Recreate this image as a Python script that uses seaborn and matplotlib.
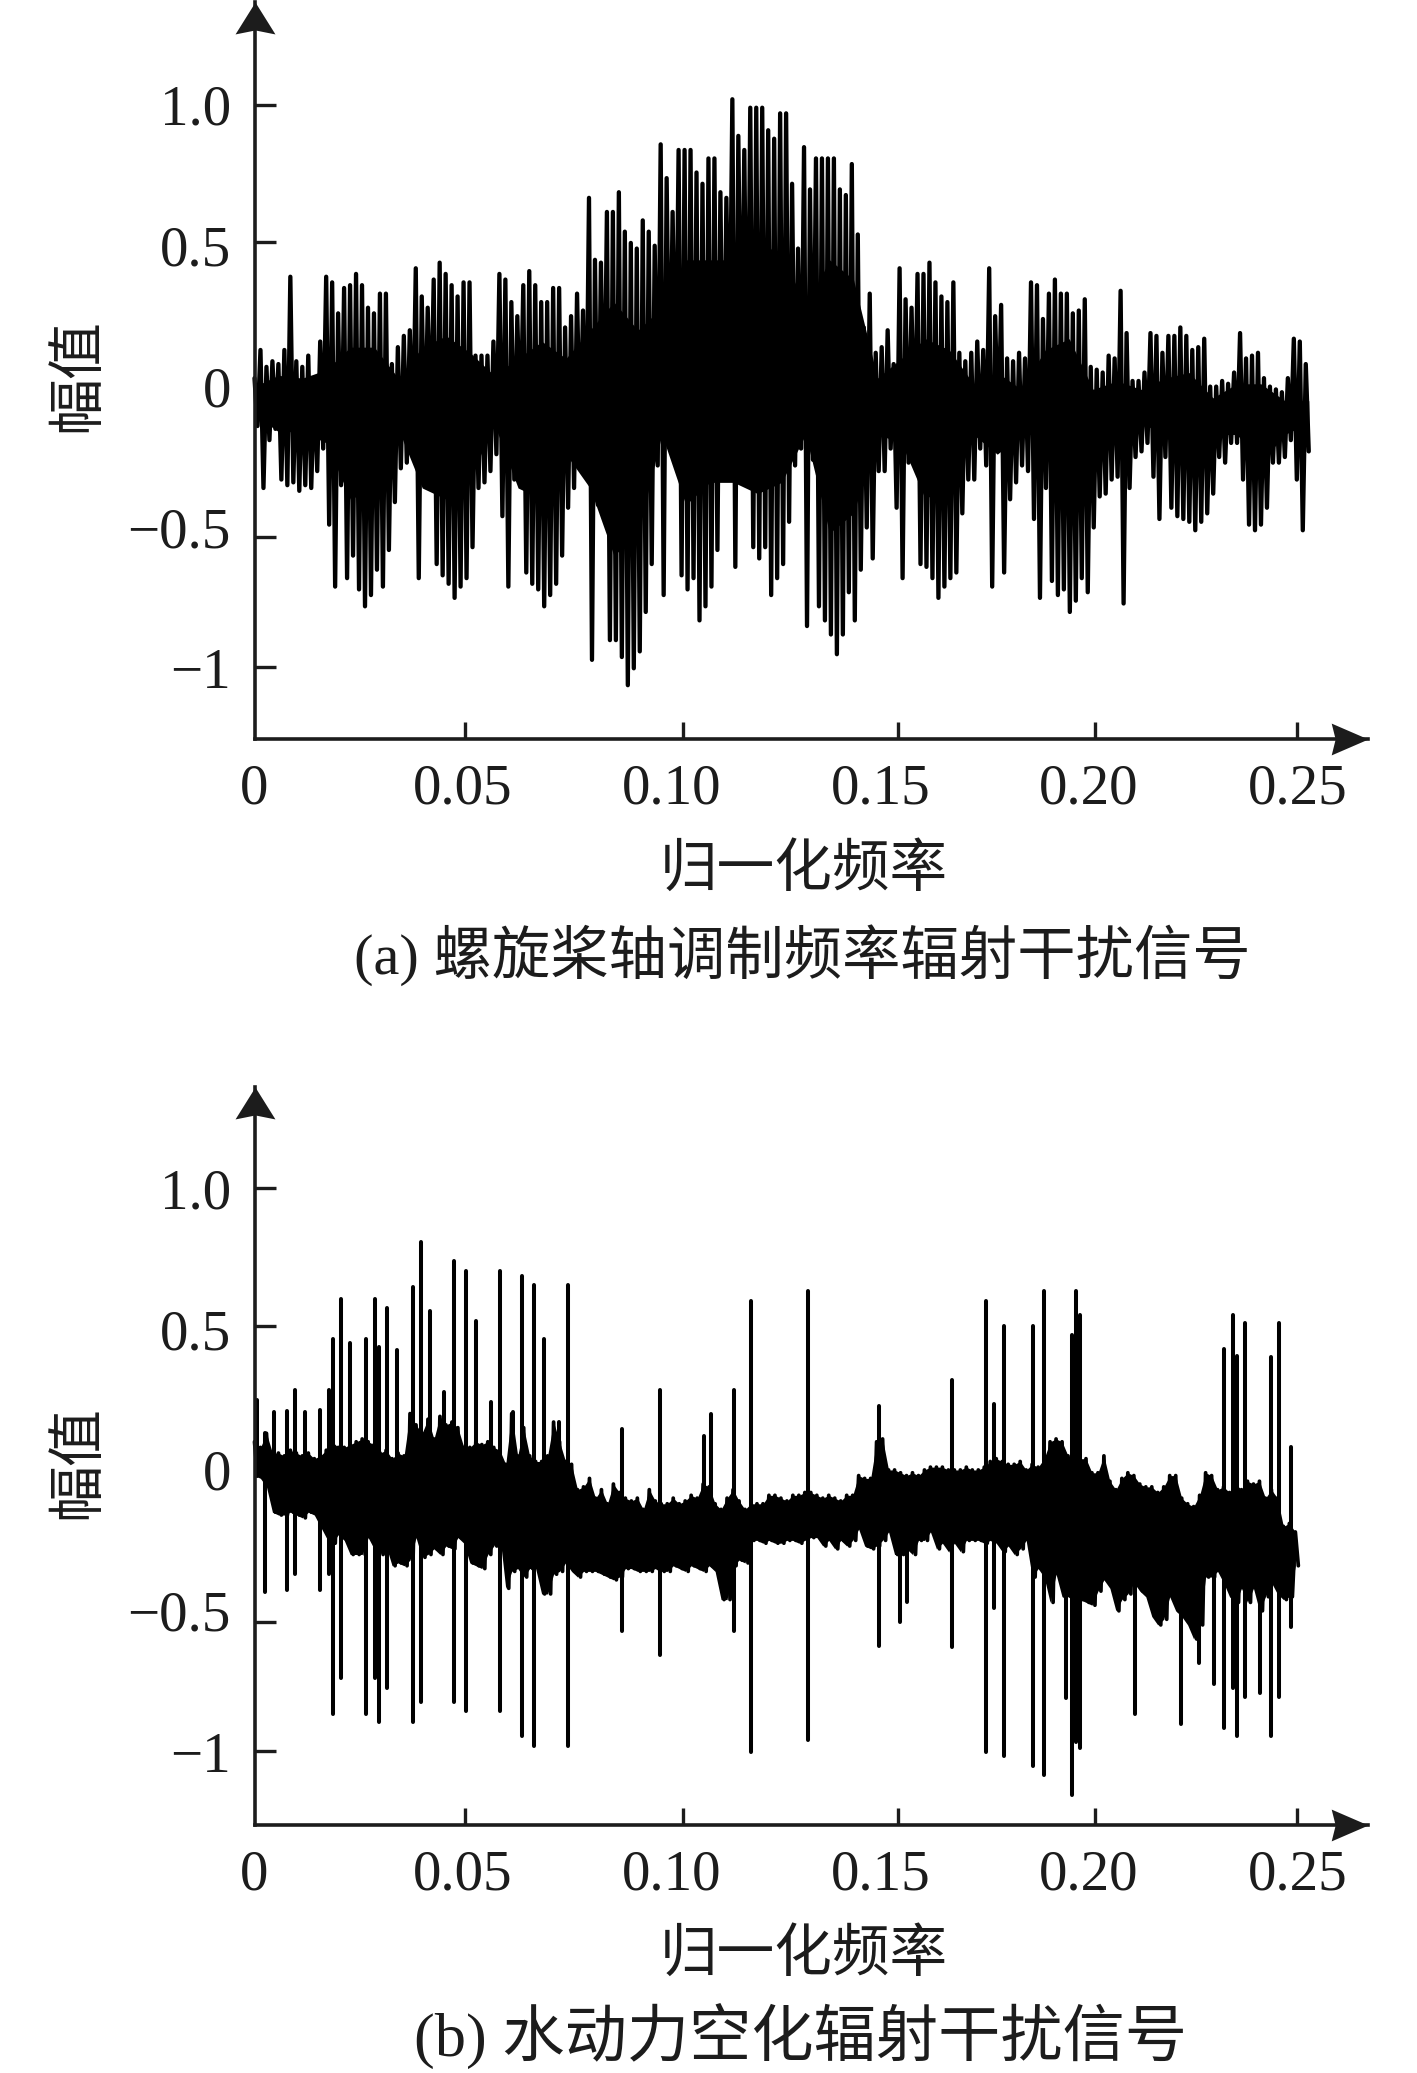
import numpy as np
import pandas as pd
import matplotlib
matplotlib.use("Agg")
import matplotlib.pyplot as plt
from matplotlib.path import Path
import seaborn as sns

# panel (a): upper and lower reach of the signal, read column by column
a_hi = [.03,.13,.07,.09,.08,.13,.39,.09,.07,.11,.03,.16,.39,.37,.26,.35,.36,.40,.36,.28,
        .26,.33,.33,.08,.14,.18,.20,.42,.32,.28,.38,.44,.40,.36,.32,.37,.37,.11,.11,.11,
        .16,.40,.38,.30,.25,.36,.41,.36,.30,.30,.35,.35,.21,.25,.33,.27,.67,.45,.44,.62,
        .62,.69,.55,.51,.49,.59,.55,.50,.86,.74,.62,.84,.84,.84,.76,.72,.81,.81,.69,.67,
        1.02,.89,.84,.99,.99,.99,.91,.88,.97,.97,.72,.49,.85,.70,.81,.81,.81,.81,.70,.68,
        .79,.54,.21,.33,.12,.14,.20,.08,.42,.31,.28,.40,.40,.44,.37,.32,.30,.37,.12,.09,
        .12,.16,.13,.42,.25,.29,.10,.09,.12,.10,.37,.36,.24,.33,.38,.33,.33,.26,.27,.31,
        .07,.06,.05,.11,.10,.34,.19,.02,.02,.05,.19,.18,.12,.18,.18,.21,.18,.13,.14,.17,
        .0,.0,.02,.01,.05,.19,.10,.11,.12,.03,.0,-.01,-.02,.03,.17,.16,.08]
a_lo = [-.14,-.36,-.19,-.15,-.33,-.35,-.34,-.37,-.35,-.36,-.30,-.22,-.49,-.71,-.35,-.68,-.60,-.72,-.78,-.74,
        -.65,-.71,-.58,-.41,-.29,-.27,-.23,-.68,-.27,-.20,-.63,-.67,-.70,-.75,-.71,-.68,-.57,-.36,-.34,-.30,
        -.24,-.46,-.71,-.33,-.20,-.66,-.70,-.72,-.78,-.74,-.70,-.60,-.43,-.36,-.23,-.32,-.97,-.42,-.30,-.90,
        -.90,-.96,-1.06,-1.0,-.94,-.80,-.63,-.28,-.74,-.18,-.15,-.67,-.72,-.68,-.83,-.78,-.71,-.58,-.30,-.03,
        -.64,-.07,-.20,-.57,-.61,-.57,-.74,-.68,-.63,-.48,-.28,-.22,-.85,-.26,-.78,-.83,-.88,-.95,-.88,-.73,
        -.83,-.65,-.50,-.61,-.30,-.30,-.22,-.43,-.68,-.27,-.26,-.63,-.64,-.68,-.75,-.71,-.68,-.66,-.45,-.33,
        -.33,-.22,-.28,-.71,-.20,-.66,-.40,-.34,-.28,-.30,-.47,-.75,-.36,-.69,-.74,-.72,-.80,-.76,-.68,-.73,
        -.50,-.39,-.38,-.33,-.32,-.77,-.36,-.25,-.23,-.20,-.32,-.47,-.25,-.43,-.46,-.47,-.48,-.51,-.48,-.45,
        -.38,-.25,-.27,-.20,-.20,-.33,-.49,-.51,-.49,-.43,-.27,-.27,-.25,-.19,-.33,-.51,-.23]

# panel (a): where the trace merges into a solid body
a_core_hi = [.0,.04,.03,.06,.14,.14,.03,.14,.18,.12,.04,.10,.16,.10,.20,.30,.20,.28,.45,.45,
             .45,.50,.48,.28,.45,.38,.03,.10,.17,.13,.01,.05,-.01,.13,.17,-.01,.02,-.01,.03,.05,
             -.04,.01,.01,-.05,-.05]
a_core_lo = [-.10,-.16,-.16,-.20,-.40,-.36,-.15,-.36,-.40,-.33,-.13,-.36,-.40,-.24,-.36,-.60,-.52,-.17,-.42,-.34,
             -.34,-.38,-.34,-.17,-.52,-.45,-.17,-.20,-.40,-.34,-.17,-.24,-.17,-.17,-.40,-.24,-.17,-.13,-.17,-.30,
             -.17,-.17,-.27,-.17,-.13]

# panel (b): the dense band
b_hi = [.10,.08,.13,.06,.06,.05,.07,.06,.05,.06,.04,.05,.07,.10,.08,.08,.09,.10,.11,.10,
        .09,.06,.07,.04,.06,.05,.20,.16,.13,.18,.11,.19,.16,.17,.15,.08,.08,.10,.09,.10,
        .08,.07,.02,.20,.05,.15,.05,.03,.03,.05,.17,.10,.03,.02,-.07,-.06,-.03,-.10,-.07,-.12,
        -.05,-.08,-.10,-.11,-.10,-.14,-.07,-.11,-.12,-.12,-.10,-.12,-.11,-.09,-.10,-.05,-.06,-.12,-.14,-.10,
        -.07,-.11,-.14,-.12,-.12,-.12,-.09,-.09,-.10,-.11,-.09,-.09,-.08,-.08,-.09,-.10,-.09,-.10,-.11,-.09,
        -.09,-.02,-.03,-.03,.10,.11,.0,.0,-.01,-.02,-.01,-.02,.0,.01,.01,.01,.0,.0,.0,.01,
        .0,.0,.01,.03,.04,.03,.02,.02,.03,.0,.02,.01,.04,.10,.11,.10,.05,.04,.04,.04,
        -.01,-.01,.05,-.04,-.07,-.03,-.01,-.02,-.05,-.06,-.06,-.08,-.06,-.02,-.02,-.10,-.12,-.13,-.09,-.01,
        -.02,-.07,-.06,-.08,-.05,-.07,-.04,-.05,-.04,-.10,-.07,-.10,-.20,-.19,-.22]
b_lo = [-.02,-.03,-.06,-.15,-.16,-.16,-.15,-.16,-.17,-.15,-.16,-.20,-.24,-.26,-.23,-.25,-.30,-.30,-.30,-.24,
        -.28,-.30,-.27,-.34,-.33,-.34,-.32,-.24,-.31,-.30,-.28,-.30,-.27,-.28,-.24,-.26,-.33,-.34,-.35,-.30,
        -.27,-.23,-.42,-.36,-.35,-.38,-.35,-.35,-.44,-.44,-.37,-.36,-.33,-.36,-.38,-.36,-.36,-.36,-.37,-.38,
        -.39,-.38,-.35,-.35,-.36,-.36,-.36,-.35,-.36,-.36,-.34,-.35,-.36,-.34,-.35,-.36,-.34,-.36,-.46,-.46,
        -.34,-.32,-.33,-.25,-.25,-.26,-.25,-.26,-.26,-.25,-.25,-.26,-.25,-.24,-.24,-.27,-.25,-.28,-.25,-.27,
        -.25,-.21,-.27,-.28,-.27,-.25,-.22,-.30,-.30,-.28,-.30,-.25,-.25,-.22,-.28,-.26,-.29,-.26,-.29,-.25,
        -.25,-.25,-.26,-.25,-.26,-.29,-.27,-.30,-.28,-.25,-.38,-.35,-.38,-.47,-.37,-.45,-.45,-.46,-.46,-.47,
        -.48,-.43,-.39,-.42,-.50,-.46,-.44,-.40,-.43,-.45,-.52,-.55,-.53,-.45,-.50,-.52,-.55,-.60,-.55,-.38,
        -.38,-.36,-.40,-.45,-.47,-.42,-.47,-.42,-.50,-.45,-.40,-.44,-.46,-.45,-.34]

# panel (b): isolated spikes standing out of the band
spike_f = [.0006,.0026,.0046,.0078,.0098,.0122,.0158,.0178,.0187,.0207,.023,.0268,.0288,.0298,.0318,.0341,
           .0379,.0398,.042,.0454,.0478,.0508,.0531,.0566,.0588,.0619,.0641,.0671,.0695,.0729,.0752,
           .0881,.0971,.1077,.1095,.1149,.1191,.1327,.1497,.1547,.1564,.1671,.1753,.1772,.1796,.1866,.1892,
           .1946,.1960,.1970,.1979,.2110,.2220,.2265,.2299,.2323,.2345,.2355,.2374,.2410,.2436,.2455,.2484]
spike_hi = [.25,.13,.207,.21,.284,.207,.214,.284,.466,.607,.45,.466,.607,.438,.576,.424,
            .648,.81,.564,.277,.74,.707,.529,.242,.707,.207,.69,.655,.466,.17,.655,
            .146,.284,.122,.2,.284,.6,.635,.228,-.2,-.2,.319,.6,.234,.512,.512,.635,
            -.2,.48,.635,.55,-.2,-.2,-.2,-.2,.43,.55,.403,.522,-.2,.40,.522,.08]
spike_lo = [-.02,-.432,-.1,-.425,-.369,-.1,-.425,-.369,-.867,-.74,-.2,-.867,-.74,-.895,-.775,-.2,
            -.895,-.825,-.2,-.2,-.825,-.857,-.2,-.2,-.857,-.2,-.944,-.979,-.2,-.2,-.979,
            -.572,-.656,-.2,-.2,-.572,-1.0,-.958,-.625,-.54,-.467,-.628,-1.0,-.49,-1.014,-1.05,-1.084,
            -.81,-1.154,-.965,-.986,-.867,-.90,-.685,-.76,-.916,-.775,-.944,-.804,-.79,-.944,-.804,-.558]

x_label_pos = [0, .05, .10, .15, .20, .25]
x_labels = ["0", "0.05", "0.10", "0.15", "0.20", "0.25"]
y_label_pos = [1.0, .5, 0, -.5, -1.0]
y_labels = ["1.0", "0.5", "0", "\u22120.5", "\u22121"]
# the tick marks in the source do not sit exactly under their labels
x_marks = [.0505, .1027, .1542, .2015, .2499]
y_marks_a = [1.0, .515, 0, -.533, -.996]
y_marks_b = [1.0, .511, 0, -.539, -.998]

W, H = 1417, 2073
INK = "#1c1c1c"

sns.set_style("white")
plt.rcParams["font.family"] = ["Liberation Serif", "Noto Sans CJK SC"]
plt.rcParams["font.size"] = 41
plt.rcParams["axes.unicode_minus"] = False

arrow_right = Path([(0, 0), (-37, 16), (-33, 0), (-37, -16), (0, 0)], closed=True)
arrow_up = Path([(0, 0), (-20, -32), (0, -28), (20, -32), (0, 0)], closed=True)


def zigzag(hi, lo, f_end):
    y = np.column_stack([hi, lo]).ravel()
    return np.linspace(0, f_end, len(y)), y


def setup(ax, marks, ylim):
    ax.set_xlim(0, .2669)
    ax.set_ylim(*ylim)
    ax.set_xlabel("")
    ax.set_ylabel("")
    ax.xaxis.remove_overlapping_locs = False
    ax.yaxis.remove_overlapping_locs = False
    ax.set_xticks(x_marks)
    ax.set_xticklabels([])
    ax.set_yticks(marks)
    ax.set_yticklabels([])
    ax.set_xticks(x_label_pos, x_labels, minor=True)
    ax.set_yticks(y_label_pos, y_labels, minor=True)
    ax.tick_params(axis="x", which="major", direction="in", bottom=True, length=12, width=2.4, color=INK)
    ax.tick_params(axis="y", which="major", direction="in", left=True, length=15, width=2.4, color=INK)
    ax.tick_params(axis="x", which="minor", bottom=True, length=0, pad=18, labelcolor=INK, labelsize=41)
    ax.tick_params(axis="y", which="minor", left=True, length=0, pad=17, labelcolor=INK, labelsize=41)
    sns.despine(ax=ax)
    for side in ["left", "bottom"]:
        ax.spines[side].set_linewidth(2.6)
        ax.spines[side].set_color(INK)
    ax.patch.set_alpha(0)
    ax.plot(1, 0, marker=arrow_right, ms=53, color=INK, mew=0, ls="", transform=ax.transAxes, clip_on=False)
    ax.plot(0, 1, marker=arrow_up, ms=46, color=INK, mew=0, ls="", transform=ax.transAxes, clip_on=False)


def put_text(x, y, s, **kw):
    fig.text(x / W, 1 - y / H, s, ha="center", va="center", color=INK, **kw)


fig = plt.figure(figsize=(W / 100, H / 100), dpi=100)
ax_a = fig.add_axes([254.5 / W, 1 - 739 / H, (1368 - 254.5) / W, 739 / H - 0.001])
ax_b = fig.add_axes([254.5 / W, 1 - 1825 / H, (1368 - 254.5) / W, (1825 - 1087) / H])

fa, ya = zigzag(a_hi, a_lo, .2527)
sns.lineplot(x=fa, y=ya, sort=False, estimator=None, color="black", lw=3.1,
             solid_joinstyle="round", clip_on=False, ax=ax_a)
ax_a.fill_between(np.linspace(0, .2527, len(a_core_hi)), a_core_lo, a_core_hi, color="black", lw=0)
setup(ax_a, y_marks_a, (-1.251, 1.365))

fb, yb = zigzag(b_hi, b_lo, .2502)
sns.lineplot(x=fb, y=yb, sort=False, estimator=None, color="black", lw=2.7,
             solid_joinstyle="round", clip_on=False, ax=ax_b)
ax_b.fill_between(fb[::2], b_lo, b_hi, color="black", lw=0)
spikes = pd.DataFrame({
    "f": np.repeat(spike_f, 2),
    "amp": np.column_stack([spike_hi, spike_lo]).ravel(),
    "id": np.repeat(np.arange(len(spike_f)), 2),
})
sns.lineplot(data=spikes, x="f", y="amp", units="id", estimator=None, sort=False,
             color="black", lw=2.9, ax=ax_b)
setup(ax_b, y_marks_b, (-1.26, 1.359))

put_text(79, 375, "幅值", rotation=90, fontsize=41)
put_text(79, 1462, "幅值", rotation=90, fontsize=41)
put_text(804, 871, "归一化频率", fontsize=41.5)
put_text(804, 1956, "归一化频率", fontsize=41.5)
put_text(802, 955, "(a) 螺旋桨轴调制频率辐射干扰信号", fontsize=42)
put_text(801, 2037, "(b) 水动力空化辐射干扰信号", fontsize=44.8)

fig.savefig("out.png", dpi=100, facecolor="white")
